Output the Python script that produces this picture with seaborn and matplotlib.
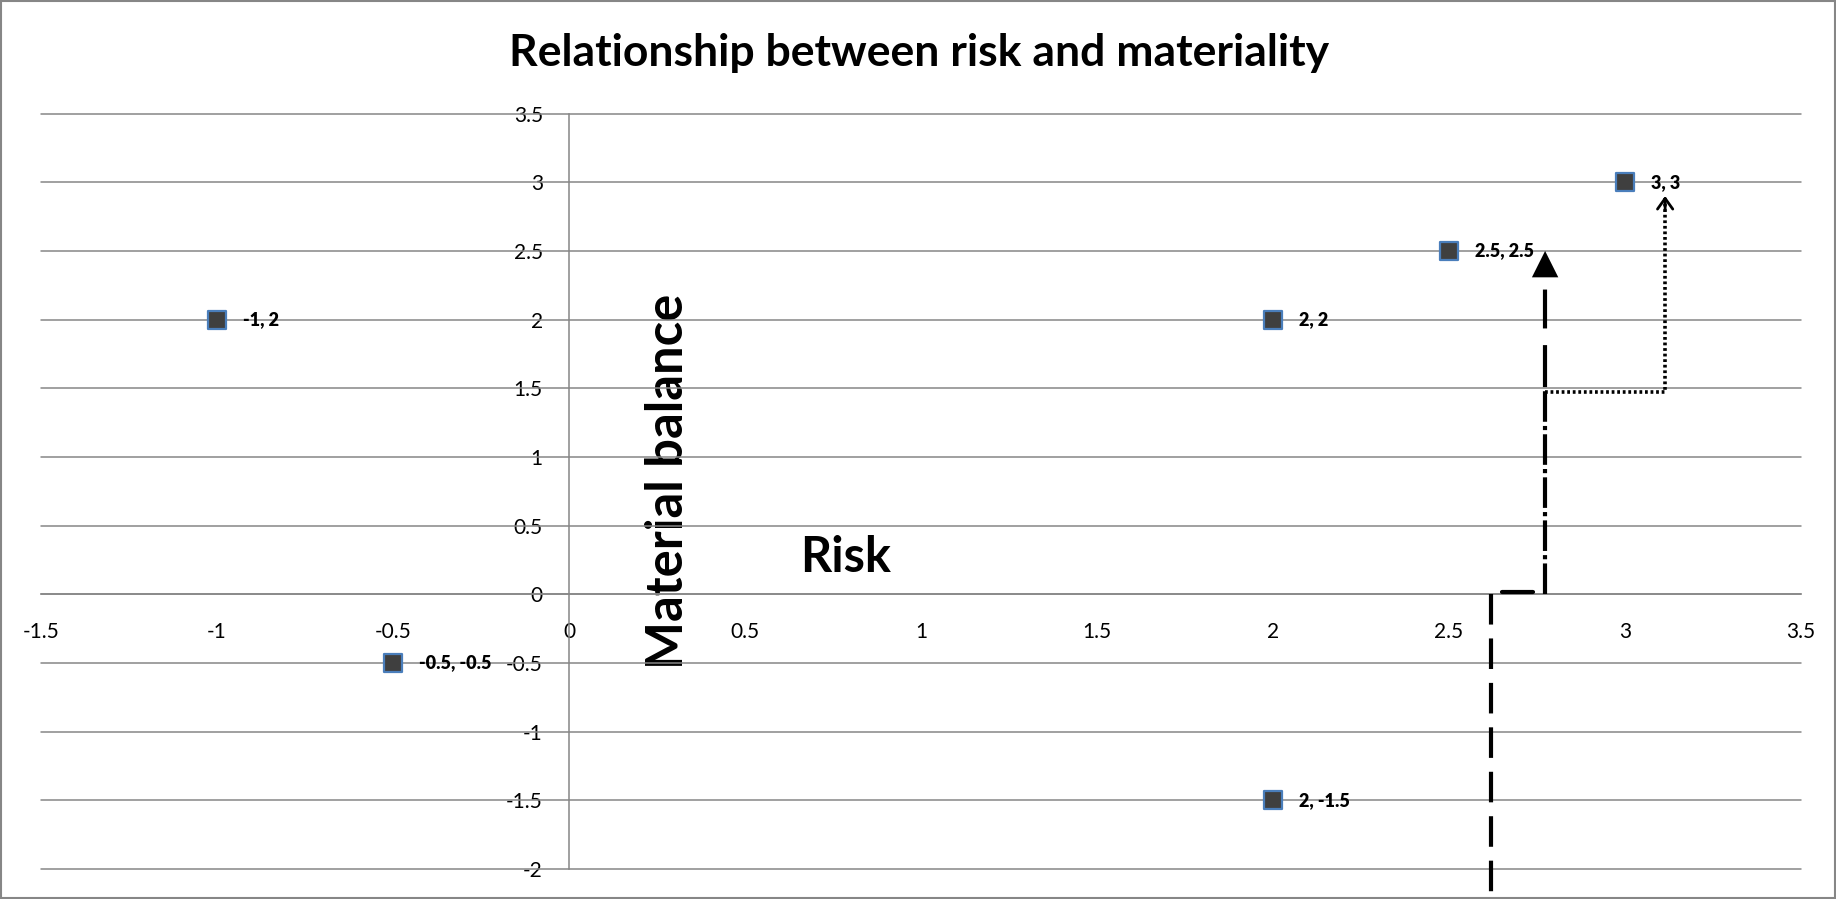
import numpy as np
import matplotlib
matplotlib.use('Agg')
import matplotlib.pyplot as plt
import matplotlib.patches as mpatches
import pandas as pd
import seaborn as sns

# 数据点
risk = [-1, -0.5, 2, 2, 2.5, 3]
balance = [2, -0.5, 2, -1.5, 2.5, 3]

# 手绘的箭头和线段 (数据坐标)
dash_x = [2.62, 2.62]
dash_y = [0, -2.17]
solid_x = [2.65, 2.74]
solid_y = [0.015, 0.015]
dashdot_x = [2.773, 2.773]
dashdot_y = [0, 1.53]
arrow_x = [2.773, 2.773]
arrow_y = [1.53, 2.5]
dotted_x = [2.773, 3.114, 3.114]
dotted_y = [1.47, 1.47, 2.9]

x_ticks = np.arange(-1.5, 3.51, 0.5)
y_ticks = np.arange(-2, 3.51, 0.5)

if __name__ == '__main__':
    sns.set_theme(style='white')
    plt.rcParams['font.family'] = ['Lato', 'DejaVu Sans']
    plt.rcParams['text.color'] = 'black'
    plt.rcParams['axes.labelcolor'] = 'black'
    plt.rcParams['lines.scale_dashes'] = False
    grey = '#868686'

    df = pd.DataFrame({'risk': risk, 'balance': balance})
    df['label'] = ['{:g}, {:g}'.format(a, b) for a, b in zip(risk, balance)]

    fig = plt.figure(figsize=(18.36, 8.99), dpi=100)
    ax = fig.add_axes([0.02233, 0.03337, 0.95861, 0.84027])

    # 网格线
    for yv in y_ticks:
        ax.axhline(yv, color=grey, lw=1.1, zorder=1, clip_on=False)

    sns.scatterplot(data=df, x='risk', y='balance', marker='s', s=165,
                    color='#3f3f3f', edgecolor='#4a7ebb', linewidth=1.6,
                    zorder=3, ax=ax, clip_on=False)
    for _, r in df.iterrows():
        ax.annotate(r['label'], (r['risk'], r['balance']), xytext=(19, 0),
                    textcoords='offset points', ha='left', va='center',
                    fontsize=13, fontweight='heavy', color='black', zorder=4)

    ax.set_xlim(-1.5, 3.5)
    ax.set_ylim(-2, 3.5)
    ax.set_xticks(x_ticks)
    ax.set_yticks(y_ticks)
    ax.set_xticklabels(['{:g}'.format(v) for v in x_ticks])
    ax.set_yticklabels(['{:g}'.format(v) for v in y_ticks])

    ax.spines['left'].set_position(('data', 0))
    ax.spines['bottom'].set_position(('data', 0))
    ax.spines['top'].set_visible(False)
    ax.spines['right'].set_visible(False)
    for s in ['left', 'bottom']:
        ax.spines[s].set_color(grey)
        ax.spines[s].set_linewidth(1.1)
        ax.spines[s].set_zorder(1.5)
    ax.tick_params(axis='both', direction='out', length=5.8, width=1.1,
                   color=grey, labelsize=15, labelcolor='black')
    ax.tick_params(axis='y', pad=13)
    ax.tick_params(axis='x', pad=14)
    ax.patch.set_alpha(0)

    ax.set_xlabel('Risk', fontsize=35, fontweight='bold')
    ax.set_ylabel('Material balance', fontsize=36.5, fontweight='bold')
    ax.xaxis.set_label_coords(0.4574, 0.4130)
    ax.xaxis.label.set_va('center')
    ax.yaxis.set_label_coords(0.3565, 0.5136)
    ax.yaxis.label.set_va('center')

    # 箭头和线段
    ax.plot(dash_x, dash_y, color='black', lw=3, dashes=(22, 10),
            clip_on=False, zorder=5)
    ax.plot(solid_x, solid_y, color='black', lw=3, clip_on=False, zorder=5)
    ax.plot(dashdot_x, dashdot_y, color='black', lw=3, dashes=(22, 3, 3, 3),
            zorder=5)
    ax.plot(arrow_x, [arrow_y[0], arrow_y[1] - 0.15], color='black', lw=3,
            dashes=(28, 12), zorder=5)
    ax.annotate('', xy=(arrow_x[1], arrow_y[1]), xytext=(arrow_x[1], arrow_y[1] - 0.2),
                arrowprops=dict(arrowstyle='-|>,head_length=1.0,head_width=0.5',
                                mutation_scale=19, color='black', lw=0,
                                shrinkA=0, shrinkB=0), zorder=5)
    ax.plot(dotted_x, dotted_y, color='black', lw=2.6, dashes=(2, 2), zorder=5)
    ax.annotate('', xy=(dotted_x[-1], dotted_y[-1]), xytext=(dotted_x[-1], dotted_y[-1] - 0.1),
                arrowprops=dict(arrowstyle='->,head_length=0.7,head_width=0.5',
                                mutation_scale=11, color='black', lw=2,
                                shrinkA=0, shrinkB=0), zorder=5)

    fig.text(919 / 1836, 1 - 53 / 899, 'Relationship between risk and materiality',
             ha='center', va='center', fontsize=32, fontweight='bold')

    fig.patches.append(mpatches.Rectangle((0.0008, 0.001), 0.9984, 0.998,
                                          transform=fig.transFigure, fill=False,
                                          edgecolor=grey, lw=1.5))
    fig.savefig('out.png', dpi=100)
